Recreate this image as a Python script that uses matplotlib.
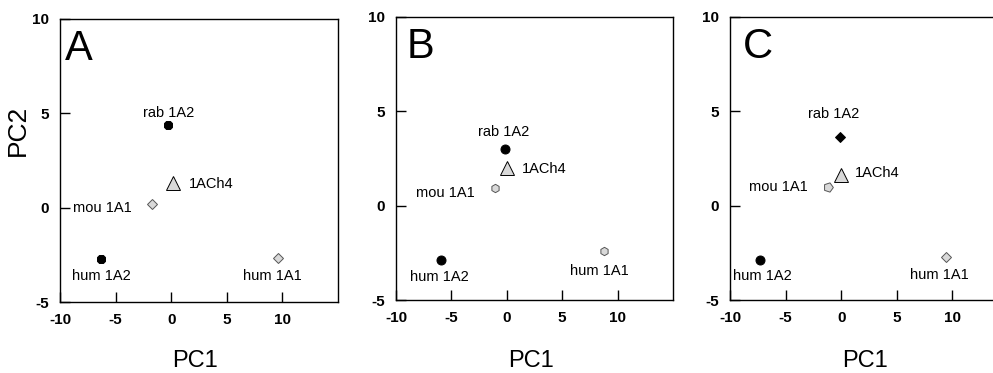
import numpy as np
import matplotlib
matplotlib.use("Agg")
import matplotlib.pyplot as plt

plt.rcParams["font.family"] = ["Liberation Sans", "DejaVu Sans"]
plt.rcParams["axes.unicode_minus"] = False

# PCA scores
samples = ["rab 1A2", "1ACh4", "mou 1A1", "hum 1A2", "hum 1A1"]
pc1_a = [-0.3, 0.2, -1.7, -6.3, 9.6]
pc2_a = [4.4, 1.3, 0.2, -2.7, -2.65]
pc1_b = [-0.2, 0.0, -1.1, -5.9, 8.8]
pc2_b = [3.0, 2.0, 0.95, -2.9, -2.4]
pc1_c = [-0.1, 0.0, -1.2, -7.3, 9.4]
pc2_c = [3.65, 1.6, 1.0, -2.9, -2.7]
panel_letters = ["A", "B", "C"]
xticks = [-10, -5, 0, 5, 10]
yticks = [-5, 0, 5, 10]

W, H = 993, 373
black = "#000000"
light = "#d9d9d9"
edge = "#555555"

# marker, face, size for each sample in each panel
styles = [
    [("8", black, 6.5), ("^", light, 10), ("D", light, 5), ("8", black, 6.5), ("D", light, 5)],
    [("o", black, 6.5), ("^", light, 10), ("h", light, 6), ("o", black, 6.5), ("h", light, 6)],
    [("D", black, 5.5), ("^", light, 10), ((5, 0, -90), light, 7), ("o", black, 6.5), ("D", light, 5)],
]
# label offsets in pixels (dx, dy) and horizontal alignment
label_pos = [
    [(1, 12, "center"), (15, -1, "left"), (-21, -4, "right"), (0, -17, "center"), (-6, -18, "center")],
    [(-1, 17, "center"), (15, -1, "left"), (-20, -5, "right"), (-2, -17, "center"), (-5, -20, "center")],
    [(-6, 23, "center"), (14, 2, "left"), (-20, 0, "right"), (2, -16, "center"), (-6, -18, "center")],
]
# axes boxes in pixels: left, top, right, bottom
boxes = [(60, 19, 338, 302), (396, 17, 673, 300), (730, 17, 1008, 300)]
letter_dx = [5, 11, 13]

fig = plt.figure(figsize=(W / 100, H / 100), dpi=100)
data = [(pc1_a, pc2_a), (pc1_b, pc2_b), (pc1_c, pc2_c)]

for i, (px, py) in enumerate(data):
    l, t, r, b = boxes[i]
    ax = fig.add_axes([l / W, 1 - b / H, (r - l) / W, (b - t) / H])
    ax.set_xlim(-10, 15)
    ax.set_ylim(-5, 10)
    ax.set_xticks(xticks)
    ax.set_yticks(yticks)
    ax.tick_params(direction="in", length=7, width=1, labelsize=11, pad=8)
    for lab in ax.get_xticklabels() + ax.get_yticklabels():
        lab.set_fontweight("bold")
    for sp in ax.spines.values():
        sp.set_linewidth(1)
    for j, name in enumerate(samples):
        m, fc, ms = styles[i][j]
        ec = black if fc == black or m == "^" else edge
        ax.plot(px[j], py[j], marker=m, ms=ms, mfc=fc, mec=ec, mew=0.7,
                ls="none", zorder=3)
        dx, dy, ha = label_pos[i][j]
        ax.annotate(name, (px[j], py[j]), xytext=(dx, dy),
                    textcoords="offset pixels", ha=ha, va="center",
                    fontsize=10.5)
    ax.text(letter_dx[i] / (r - l), 1 - 41 / (b - t), panel_letters[i],
            transform=ax.transAxes, fontsize=30, va="baseline", ha="left")
    fig.text(((l + r) / 2 - 4) / W, 1 - 361 / H, "PC1", fontsize=17,
             ha="center", va="center")

fig.text(18 / W, 1 - 130 / H, "PC2", fontsize=19, rotation=90,
         ha="center", va="center")

fig.savefig("out.png", dpi=100)
